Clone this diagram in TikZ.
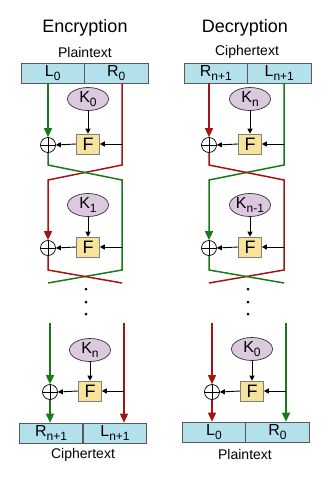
\documentclass[tikz,border=0pt]{standalone}
\usepackage{fontspec}
\setmainfont{Liberation Sans}
\usetikzlibrary{shapes.geometric,arrows.meta}
\definecolor{boxc}{HTML}{B2E1EC}
\definecolor{keyc}{HTML}{DCC8DF}
\definecolor{fc}{HTML}{F8E39B}
\definecolor{grn}{HTML}{1A7A1A}
\definecolor{rd}{HTML}{A31515}
\newcommand\sbs[1]{\raisebox{-0.3em}{\fontsize{12}{12}\selectfont #1}}
\begin{document}
\begin{tikzpicture}[x=1pt,y=-1pt,
  half/.style={draw=black!65, line width=0.6pt, fill=boxc, minimum width=63.5pt, minimum height=20pt, inner sep=0pt, font=\fontsize{16}{16}\selectfont},
  key/.style={ellipse, draw=black!80, line width=0.7pt, fill=keyc, minimum width=41pt, minimum height=23pt, inner sep=0pt, font=\fontsize{16}{16}\selectfont},
  ffn/.style={draw=black!50, line width=0.6pt, fill=fc, minimum width=23pt, minimum height=20pt, inner sep=0pt, font=\fontsize{18}{18}\selectfont},
  xor/.style={circle, draw, line width=0.7pt, minimum size=15pt, inner sep=0pt,
    path picture={\draw[line width=0.7pt] (path picture bounding box.north) -- (path picture bounding box.south) (path picture bounding box.west) -- (path picture bounding box.east);}},
  wire/.style={line width=1.5pt},
  big/.style={-{Triangle[length=9pt,width=8pt]}},
  small/.style={-{Triangle[length=5pt,width=5pt]}, line width=0.9pt},
  ttl/.style={font=\fontsize{18}{18}\selectfont},
  lbl/.style={font=\fontsize{14}{14}\selectfont},
  dotn/.style={circle, fill=black, minimum size=3pt, inner sep=0pt}
]
\useasboundingbox (0,0) rectangle (330,483);

% ================= Encryption =================
\node[ttl] (etitle) at (85,28) {Encryption};
\node[lbl] (eplain) at (85,52) {Plaintext};
\node[half] (eL0) at (52.75,73) {L\sbs{0}};
\node[half] (eR0) at (116.25,73) {R\sbs{0}};
% round 1
\node[key] (ek1) at (88,99) {K\sbs{0}};
\node[ffn] (ef1) at (88,144) {F};
\node[xor] (ex1) at (48,145) {};
\coordinate (ea1) at (48,165);
\coordinate (eb1) at (122,165);
\coordinate (ea1b) at (48,180);
\coordinate (eb1b) at (122,180);
% round 2
\node[key] (ek2) at (88,205) {K\sbs{1}};
\node[ffn] (ef2) at (88,247) {F};
\node[xor] (ex2) at (48,248) {};
\coordinate (ea2) at (48,270);
\coordinate (eb2) at (122,270);
\coordinate (ea2b) at (48,283);
\coordinate (eb2b) at (122,283);
% dots
\node[dotn] (ed1) at (86,289) {};
\node[dotn] (ed2) at (86,302) {};
\node[dotn] (ed3) at (86,314) {};
% round 3
\coordinate (ea3) at (50,323);
\coordinate (eb3) at (124,323);
\node[key] (ek3) at (90,350) {K\sbs{n}};
\node[ffn] (ef3) at (90,391) {F};
\node[xor] (ex3) at (50,392) {};
\node[half] (eRn) at (51,433) {R\sbs{n+1}};
\node[half] (eLn) at (115,433) {L\sbs{n+1}};
\node[lbl] (ecipher) at (83,455) {Ciphertext};

\draw[wire,grn,big] (eL0.south -| ex1) -- (ex1.north);
\draw[wire,rd,big] (eR0.south -| eb1) -- (eb1) -- (ea1b) -- (ex2.north);
\draw[wire,grn] (ex1.south) -- (ea1) -- (eb1b) -- (eb2) -- (ea2b);
\draw[wire,rd] (ex2.south) -- (ea2) -- (eb2b);
\draw[small] (ek1.south) -- (ef1.north);
\draw[small] (ef1.east -| eb1) -- (ef1.east);
\draw[small] (ef1.west) -- (ex1.east);
\draw[small] (ek2.south) -- (ef2.north);
\draw[small] (ef2.east -| eb1b) -- (ef2.east);
\draw[small] (ef2.west) -- (ex2.east);
\draw[wire,grn,big] (ea3) -- (ex3.north);
\draw[wire,grn,big] (ex3.south) -- (ex3.south |- eRn.north);
\draw[wire,rd,big] (eb3) -- (eb3 |- eLn.north);
\draw[small] (ek3.south) -- (ef3.north);
\draw[small] (ef3.east -| eb3) -- (ef3.east);
\draw[small] (ef3.west) -- (ex3.east);

% ================= Decryption =================
\node[ttl] (dtitle) at (245,28) {Decryption};
\node[lbl] (dcipher) at (247,52) {Ciphertext};
\node[half] (dRn) at (215.75,73) {R\sbs{n+1}};
\node[half] (dLn) at (279.25,73) {L\sbs{n+1}};
% round 1
\node[key] (dk1) at (250,99) {K\sbs{n}};
\node[ffn] (df1) at (250,144) {F};
\node[xor] (dx1) at (209,145) {};
\coordinate (da1) at (209,165);
\coordinate (db1) at (284,165);
\coordinate (da1b) at (209,180);
\coordinate (db1b) at (284,180);
% round 2
\node[key] (dk2) at (250,205) {K\sbs{n-1}};
\node[ffn] (df2) at (250,247) {F};
\node[xor] (dx2) at (209,248) {};
\coordinate (da2) at (209,270);
\coordinate (db2) at (284,270);
\coordinate (da2b) at (209,283);
\coordinate (db2b) at (284,283);
% dots
\node[dotn] (dd1) at (248,289) {};
\node[dotn] (dd2) at (248,302) {};
\node[dotn] (dd3) at (248,314) {};
% round 3
\coordinate (da3) at (212,323);
\coordinate (db3) at (286,323);
\node[key] (dk3) at (252,349) {K\sbs{0}};
\node[ffn] (df3) at (252,391) {F};
\node[xor] (dx3) at (212,392) {};
\node[half] (dL0) at (214,432) {L\sbs{0}};
\node[half] (dR0) at (277.5,432) {R\sbs{0}};
\node[lbl] (dplain) at (245,454) {Plaintext};

\draw[wire,rd,big] (dRn.south -| dx1) -- (dx1.north);
\draw[wire,grn,big] (dLn.south -| db1) -- (db1) -- (da1b) -- (dx2.north);
\draw[wire,rd] (dx1.south) -- (da1) -- (db1b) -- (db2) -- (da2b);
\draw[wire,grn] (dx2.south) -- (da2) -- (db2b);
\draw[small] (dk1.south) -- (df1.north);
\draw[small] (df1.east -| db1) -- (df1.east);
\draw[small] (df1.west) -- (dx1.east);
\draw[small] (dk2.south) -- (df2.north);
\draw[small] (df2.east -| db1b) -- (df2.east);
\draw[small] (df2.west) -- (dx2.east);
\draw[wire,rd,big] (da3) -- (dx3.north);
\draw[wire,rd,big] (dx3.south) -- (dx3.south |- dL0.north);
\draw[wire,grn,big] (db3) -- (db3 |- dR0.north);
\draw[small] (dk3.south) -- (df3.north);
\draw[small] (df3.east -| db3) -- (df3.east);
\draw[small] (df3.west) -- (dx3.east);
\end{tikzpicture}
\end{document}
